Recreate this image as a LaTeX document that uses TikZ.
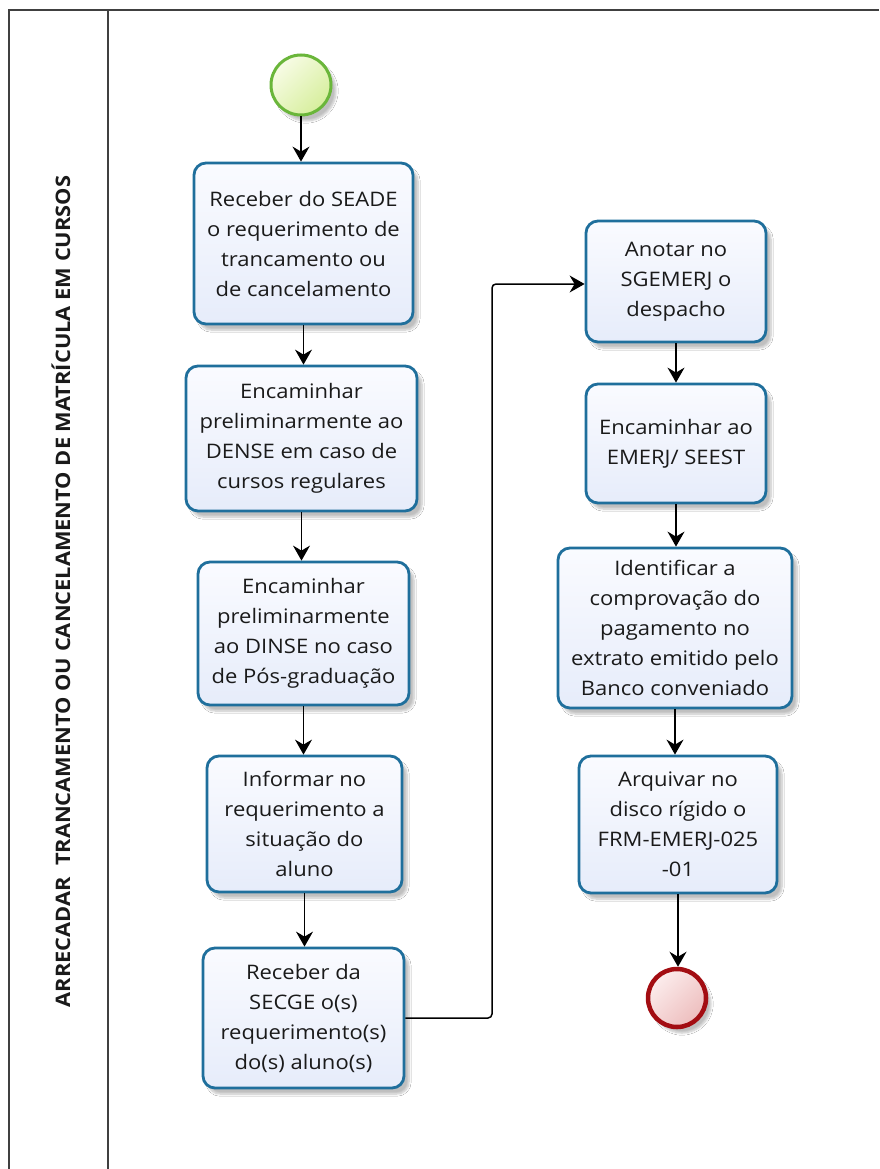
\documentclass[tikz,border=0pt]{standalone}
\usepackage{fontspec}
\setmainfont{Open Sans}
\newfontfamily\taskfont[FakeStretch=1.1]{Open Sans}
\newfontfamily\lanefont[FakeStretch=1.09]{Open Sans}
\usetikzlibrary{arrows.meta,shadows.blur,calc}
\definecolor{boxline}{HTML}{1F6F9C}
\definecolor{boxfillA}{HTML}{FAFBFF}
\definecolor{boxfillB}{HTML}{E6ECFA}
\definecolor{startline}{HTML}{6AB63A}
\definecolor{startA}{HTML}{F8FCE6}
\definecolor{startB}{HTML}{D6EE9C}
\definecolor{endline}{HTML}{A30D12}
\definecolor{endA}{HTML}{FCEDED}
\definecolor{endB}{HTML}{EDBDBD}
\definecolor{poolline}{HTML}{404040}
\definecolor{txt}{HTML}{1A1A1A}
\tikzset{
  task/.style={draw=boxline, line width=2.8pt, rounded corners=12pt,
    top color=boxfillA, bottom color=boxfillB,
    blur shadow={shadow xshift=5pt, shadow yshift=-6pt, shadow blur steps=6, shadow opacity=25},
    align=center, text=txt, inner sep=0pt,
    font=\taskfont\fontsize{20}{30}\selectfont},
  startev/.style={circle, draw=startline, line width=3pt, minimum size=60pt,
    shading=axis, left color=startA, right color=startB, shading angle=45,
    blur shadow={shadow xshift=5pt, shadow yshift=-6pt, shadow blur steps=6, shadow opacity=25}},
  endev/.style={circle, draw=endline, line width=4.5pt, minimum size=58pt,
    left color=endA, right color=endB, shading angle=45,
    blur shadow={shadow xshift=5pt, shadow yshift=-6pt, shadow blur steps=6, shadow opacity=25}},
  flow/.style={draw=black, line width=1.5pt, -{Stealth[length=15pt,width=17pt,inset=5pt]}},
  pool/.style={draw=poolline, line width=2pt}
}
\begin{document}
\begin{tikzpicture}[x=1pt,y=1pt]
\useasboundingbox (0,0) rectangle (879,-1169);
\fill[white] (0,0) rectangle (879,-1169);
% pool
\draw[pool] (879,-10) -- (9,-10) -- (9,-1169);
\draw[pool] (108,-10) -- (108,-1169);
\node[rotate=90, font=\lanefont\bfseries\fontsize{20}{22}\selectfont, text=txt] (lane) at (61,-591.5)
  {ARRECADAR\ \ TRANCAMENTO OU CANCELAMENTO DE MATRÍCULA EM CURSOS};
% events
\node[startev] (start) at (301,-85) {};
\node[endev] (end) at (677,-998) {};
% tasks
\node[task, minimum width=219pt, minimum height=161pt] (b1) at (303.5,-243.5)
  {Receber do SEADE\\o requerimento de\\trancamento ou\\de cancelamento};
\node[task, minimum width=231pt, minimum height=145pt] (b2) at (301.5,-438.5)
  {Encaminhar\\preliminarmente ao\\DENSE em caso de\\cursos regulares};
\node[task, minimum width=211pt, minimum height=143pt] (b3) at (303.5,-633.5)
  {Encaminhar\\preliminarmente\\ao DINSE no caso\\de Pós-graduação};
\node[task, minimum width=195pt, minimum height=136pt] (b4) at (304.5,-824)
  {Informar no\\requerimento a\\situação do\\aluno};
\node[task, minimum width=201pt, minimum height=140pt] (b5) at (303.5,-1018)
  {Receber da\\SECGE o(s)\\requerimento(s)\\do(s) aluno(s)};
\node[task, minimum width=180pt, minimum height=121pt] (b6) at (676,-281.5)
  {Anotar no\\SGEMERJ o\\despacho};
\node[task, minimum width=180pt, minimum height=119pt] (b7) at (676,-443.5)
  {Encaminhar ao\\EMERJ/ SEEST};
\node[task, minimum width=234pt, minimum height=160pt] (b8) at (675,-628)
  {Identificar a\\comprovação do\\pagamento no\\extrato emitido pelo\\Banco conveniado};
\node[task, minimum width=198pt, minimum height=137pt] (b9) at (678,-824.5)
  {Arquivar no\\disco rígido o\\FRM-EMERJ-025\\-01};
% flows
\draw[flow] (start.south) -- (start.south |- b1.north);
\draw[flow] (b1.south) -- (b1.south |- b2.north);
\draw[flow] (b2.south) -- (b2.south |- b3.north);
\draw[flow] (b3.south) -- (b3.south |- b4.north);
\draw[flow] (b4.south) -- (b4.south |- b5.north);
\coordinate (turn) at (492,-284);
\draw[flow, rounded corners=4pt] (b5.east) -| (turn) -- (turn -| b6.west);
\draw[flow] (b6.south) -- (b6.south |- b7.north);
\draw[flow] (b7.south) -- (b7.south |- b8.north);
\draw[flow] (b8.south) -- (b8.south |- b9.north);
\draw[flow] (b9.south) -- (b9.south |- end.north);
\end{tikzpicture}
\end{document}
